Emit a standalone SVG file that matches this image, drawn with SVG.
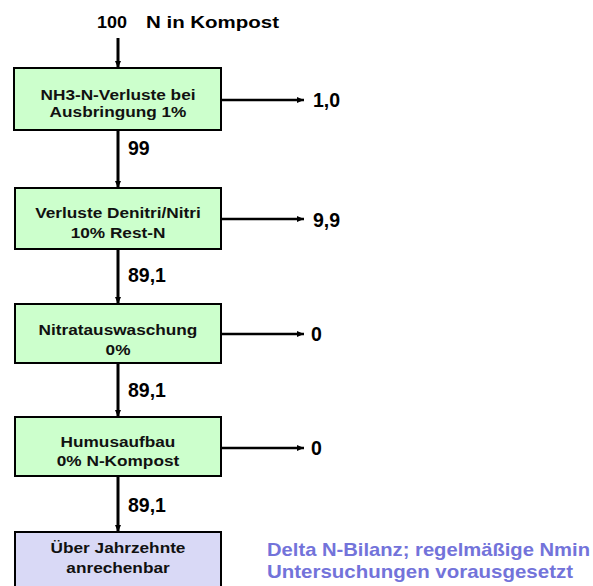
<svg xmlns="http://www.w3.org/2000/svg" width="593" height="586" viewBox="0 0 593 586">
  <defs>
    <marker id="head" markerUnits="userSpaceOnUse" markerWidth="9" markerHeight="7" refX="7" refY="3" orient="auto">
      <path d="M0,0 L7,3 L0,6 z" fill="#000"/>
    </marker>
    <style>
      .box { fill: #ccffcc; stroke: #000; stroke-width: 2; }
      .box-end { fill: #d9d9f6; stroke: #000; stroke-width: 2; }
      .label { font-family: "Liberation Sans", Arial, sans-serif; font-weight: bold; font-size: 14px; fill: #111; text-anchor: middle; }
      .num { font-family: "Liberation Sans", Arial, sans-serif; font-weight: bold; font-size: 19.5px; fill: #000; }
      .title { font-family: "Liberation Sans", Arial, sans-serif; font-weight: bold; font-size: 16px; fill: #000; }
      .note { font-family: "Liberation Sans", Arial, sans-serif; font-weight: bold; font-size: 19px; fill: #7373da; }
      .down { stroke: #000; stroke-width: 3; fill: none; marker-end: url(#head); }
      .side { stroke: #000; stroke-width: 2.5; fill: none; marker-end: url(#head); }
    </style>
  </defs>
  <rect width="593" height="586" fill="#fff"/>

  <!-- input label -->
  <g id="input">
    <text class="title" x="97" y="28" textLength="30" lengthAdjust="spacingAndGlyphs">100</text>
    <text class="title" x="146" y="28" textLength="133" lengthAdjust="spacingAndGlyphs">N in Kompost</text>
  </g>

  <!-- process steps -->
  <g id="nh3">
    <rect class="box" x="14" y="68" width="207" height="62"/>
    <g transform="translate(118 0) scale(1.23 1)">
      <text class="label" x="0" y="100">NH3-N-Verluste bei</text>
      <text class="label" x="0" y="117">Ausbringung 1%</text>
    </g>
  </g>
  <g id="denitri">
    <rect class="box" x="15" y="188" width="206" height="61"/>
    <g transform="translate(118 0) scale(1.23 1)">
      <text class="label" x="0" y="218">Verluste Denitri/Nitri</text>
      <text class="label" x="0" y="238">10% Rest-N</text>
    </g>
  </g>
  <g id="nitrat">
    <rect class="box" x="15" y="304" width="206" height="59"/>
    <g transform="translate(118 0) scale(1.23 1)">
      <text class="label" x="0" y="335">Nitratauswaschung</text>
      <text class="label" x="0" y="355">0%</text>
    </g>
  </g>
  <g id="humus">
    <rect class="box" x="15" y="417" width="206" height="59"/>
    <g transform="translate(118 0) scale(1.23 1)">
      <text class="label" x="0" y="447">Humusaufbau</text>
      <text class="label" x="0" y="466">0% N-Kompost</text>
    </g>
  </g>
  <g id="anrechenbar">
    <rect class="box-end" x="15" y="532" width="206" height="62"/>
    <g transform="translate(118 0) scale(1.23 1)">
      <text class="label" x="0" y="553">Über Jahrzehnte</text>
      <text class="label" x="0" y="573">anrechenbar</text>
    </g>
  </g>

  <!-- loss outputs -->
  <g id="out-nh3"><text class="num" x="313" y="107">1,0</text></g>
  <g id="out-denitri"><text class="num" x="313" y="227">9,9</text></g>
  <g id="out-nitrat"><text class="num" x="311" y="341">0</text></g>
  <g id="out-humus"><text class="num" x="311" y="455">0</text></g>

  <!-- remark -->
  <g id="note">
    <text class="note" x="267" y="556" textLength="323" lengthAdjust="spacingAndGlyphs">Delta N-Bilanz; regelmäßige Nmin</text>
    <text class="note" x="267" y="578" textLength="306" lengthAdjust="spacingAndGlyphs">Untersuchungen vorausgesetzt</text>
  </g>

  <!-- connectors -->
  <g id="connectors">
    <line class="down" x1="118" y1="38" x2="118" y2="68"/>
    <line class="down" x1="118" y1="130" x2="118" y2="188"/>
    <line class="down" x1="118" y1="249" x2="118" y2="304"/>
    <line class="down" x1="118" y1="363" x2="118" y2="417"/>
    <line class="down" x1="118" y1="476" x2="118" y2="532"/>

    <line class="side" x1="221" y1="100" x2="304" y2="100"/>
    <line class="side" x1="221" y1="219" x2="304" y2="219"/>
    <line class="side" x1="221" y1="334" x2="304" y2="334"/>
    <line class="side" x1="221" y1="448" x2="304" y2="448"/>

    <text class="num" x="128" y="155">99</text>
    <text class="num" x="128" y="282">89,1</text>
    <text class="num" x="128" y="397">89,1</text>
    <text class="num" x="128" y="512">89,1</text>
  </g>
</svg>
